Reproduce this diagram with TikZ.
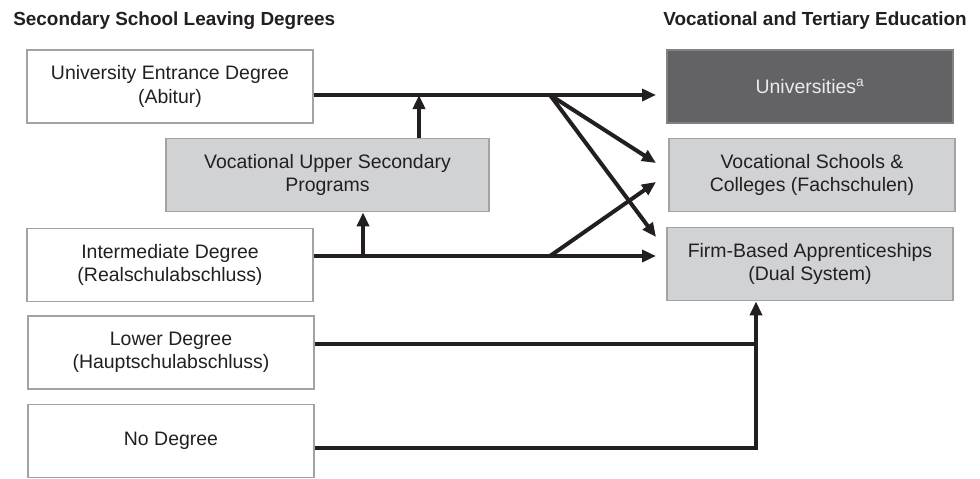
\documentclass[tikz,border=0pt]{standalone}
\usepackage{fontspec}
\setmainfont{Liberation Sans}
\usetikzlibrary{arrows.meta}
\definecolor{ink}{HTML}{231F20}
\definecolor{lightfill}{HTML}{D1D2D4}
\definecolor{darkfill}{HTML}{636366}
\definecolor{edge}{HTML}{A3A3A5}
\tikzset{
  box/.style={draw=edge, line width=1.1pt, minimum width=214.5pt, minimum height=55pt,
    align=center, inner sep=0pt, text=ink, font=\fontsize{14.6}{17.5}\selectfont},
  lightbox/.style={box, fill=lightfill},
  darkbox/.style={box, fill=darkfill, draw=darkfill!80!white, text=white!92!black},
  title/.style={font=\fontsize{14.2}{17}\selectfont\bfseries, text=ink, inner sep=0pt},
  conn/.style={draw=ink, line width=3pt},
  arr/.style={conn, -{Triangle[length=10.5pt, width=9pt]}},
}
\begin{document}
\begin{tikzpicture}[x=0.75pt, y=-0.75pt]
\useasboundingbox (0,0) rectangle (980,478);
% titles
\node[title, anchor=west] (tl) at (13,21) {Secondary School Leaving Degrees};
\node[title, anchor=east] (tr) at (967,21) {Vocational and Tertiary Education};
% left boxes
\node[box] (abi) at (170,86.5) {University Entrance Degree\\(Abitur)};
\node[lightbox, minimum width=242pt] (vus) at (327.5,175) {Vocational Upper Secondary\\Programs};
\node[box] (int) at (170,265) {Intermediate Degree\\(Realschulabschluss)};
\node[box] (low) at (171,352.5) {Lower Degree\\(Hauptschulabschluss)};
\node[box] (nod) at (171,441) {No Degree};
% right boxes
\node[darkbox] (uni) at (810,86.5) {Universities\textsuperscript{a}};
\node[lightbox] (voc) at (812,175) {Vocational Schools \&\\Colleges (Fachschulen)};
\node[lightbox] (firm) at (810,264) {Firm-Based Apprenticeships\\(Dual System)};
% junctions
\coordinate (ya) at (0,95);
\coordinate (yi) at (0,256);
\coordinate (yl) at (0,344);
\coordinate (yn) at (0,448);
\coordinate (j1) at (550,95);
\coordinate (j2) at (419,95);
\coordinate (j3) at (363,256);
\coordinate (j4) at (550,256);
\coordinate (tipA) at (656,95);
\coordinate (tipB) at (656,163);
\coordinate (tipC) at (656,182);
\coordinate (tipD) at (656,237);
\coordinate (tipE) at (656,256);
\coordinate (k1) at (756,344);
\coordinate (k2) at (756,448);
% connectors
\draw[arr] (abi.east |- ya) -- (tipA);
\draw[arr] (vus.north -| j2) -- (j2);
\draw[arr] (j1) -- (tipB);
\draw[arr] (j1) -- (tipD);
\draw[arr] (int.east |- yi) -- (tipE);
\draw[arr] (j3) -- (vus.south -| j3);
\draw[arr] (j4) -- (tipC);
\draw[conn] (low.east |- yl) -- (k1);
\draw[arr] (nod.east |- yn) -- (k2) -- (firm.south -| k2);
\end{tikzpicture}
\end{document}
